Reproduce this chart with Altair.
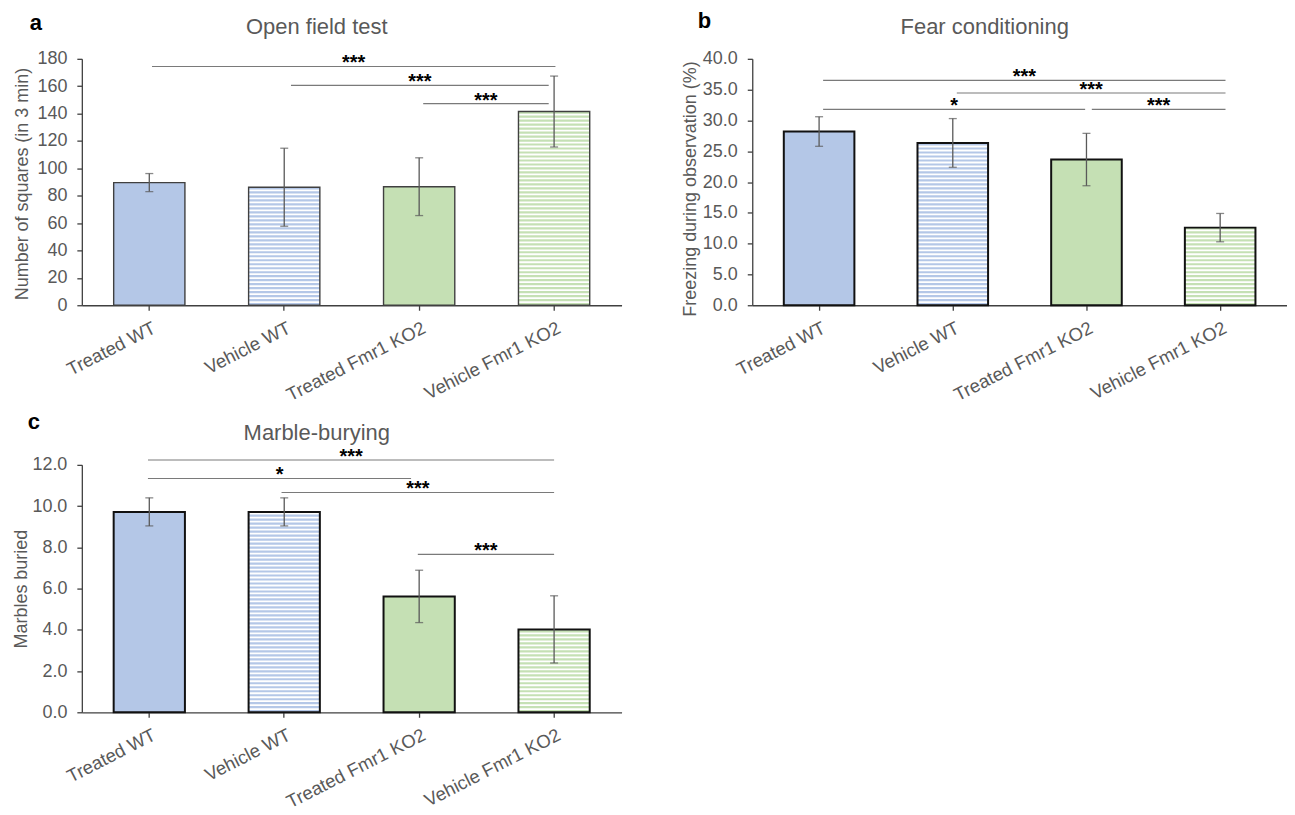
import altair as alt
import pandas as pd

# ---------------- data ----------------
categories = ["Treated WT", "Vehicle WT", "Treated Fmr1 KO2", "Vehicle Fmr1 KO2"]
bar_fill = ["#b4c7e7", "#ffffff", "#c5e0b4", "#ffffff"]
stripe_fill = ["#b4c7e7", "#b4c7e7", "#c5e0b4", "#c5e0b4"]
striped = [False, True, False, True]

open_mean = [89.6, 86.2, 86.6, 141.5]
open_err = [6.6, 28.5, 21.1, 25.9]
open_ticks = [0, 20, 40, 60, 80, 100, 120, 140, 160, 180]

fear_mean = [28.2, 26.35, 23.65, 12.6]
fear_err = [2.4, 3.95, 4.25, 2.3]
fear_ticks = [0, 5, 10, 15, 20, 25, 30, 35, 40]

marble_mean = [9.72, 9.72, 5.62, 4.02]
marble_err = [0.68, 0.68, 1.27, 1.63]
marble_ticks = [0, 2, 4, 6, 8, 10, 12]

# significance brackets (position in category units: 0.5 = centre of first bar)
open_sig_start = [0.52, 1.55, 2.53]
open_sig_end = [3.51, 3.46, 3.46]
open_sig_y = [174.4, 160.6, 147.3]
open_sig_label = ["***", "***", "***"]

fear_sig_start = [0.53, 1.53, 0.53, 2.54]
fear_sig_end = [3.54, 3.54, 2.49, 3.54]
fear_sig_y = [36.5, 34.45, 31.8, 31.8]
fear_sig_label = ["***", "***", "*", "***"]

marble_sig_start = [0.49, 0.49, 1.48, 2.49]
marble_sig_end = [3.50, 2.44, 3.50, 3.50]
marble_sig_y = [12.24, 11.34, 10.66, 7.66]
marble_sig_label = ["***", "*", "***", "***"]

FONT = "Liberation Sans"
GRAY = "#595959"


def panel(letter, title, ytitle, mean, err, ticks, fmt, sig_start, sig_end, sig_y,
          sig_label, w, h, outline_color, outline_width, ytitle_x, ytitle_y, letter_x, letter_y):
    ymax = ticks[-1]
    stripe_step = 4.0 * ymax / h  # ~4 px stripe period
    df = pd.DataFrame({"cat": categories, "mean": mean, "err": err,
                       "fill": bar_fill, "stripe": stripe_fill, "striped": striped})
    sig = pd.DataFrame({"start": sig_start, "end": sig_end, "y": sig_y, "label": sig_label})

    yscale = alt.Scale(domain=[0, ymax], nice=False, zero=True)
    yaxis = alt.Axis(values=ticks, format=fmt, labelPadding=10, tickSize=5,
                     titleX=ytitle_x, titleY=ytitle_y, titleAngle=-90,
                     titleAlign="center", titleBaseline="middle")

    def yenc(field):
        return alt.Y(f"{field}:Q", scale=yscale, axis=yaxis, title=ytitle)

    xband = alt.X("cat:N", sort=categories,
                  scale=alt.Scale(domain=categories, paddingInner=0.472, paddingOuter=0.236),
                  axis=alt.Axis(title=None, labelAngle=-27, labelAlign="right",
                                labelBaseline="top", labelPadding=8, labelOffset=1,
                                labelFontSize=18.5, tickSize=5))

    base = alt.Chart(df)
    bars = base.mark_bar(strokeWidth=0).encode(
        x=xband, y=yenc("mean"), fill=alt.Fill("fill:N", scale=None))
    stripes = base.transform_filter("datum.striped").transform_calculate(
        s=f"sequence(0, datum.mean, {stripe_step})"
    ).transform_flatten(["s"]).transform_calculate(
        s2=f"min(datum.s + {stripe_step * 0.55}, datum.mean)"
    ).mark_bar(strokeWidth=0).encode(
        x=xband, y=yenc("s"), y2="s2:Q", fill=alt.Fill("stripe:N", scale=None))
    outline = base.mark_bar(fillOpacity=0, fill="white", stroke=outline_color,
                            strokeWidth=outline_width).encode(x=xband, y=yenc("mean"))
    ebase = base.transform_calculate(lo="datum.mean - datum.err", hi="datum.mean + datum.err")
    erule = ebase.mark_rule(color=GRAY, strokeWidth=1.3).encode(
        x=xband, y=yenc("lo"), y2="hi:Q")
    ecaps = ebase.transform_fold(["lo", "hi"], as_=["which", "v"]).mark_tick(
        color=GRAY, thickness=1.3, size=8).encode(x=xband, y=yenc("v"))

    bar_group = alt.layer(bars, stripes, outline, erule, ecaps)

    xlin = alt.Scale(domain=[0, 4], nice=False, zero=False)
    sbase = alt.Chart(sig).transform_calculate(mid="(datum.start + datum.end) / 2")
    srule = sbase.mark_rule(color="#7a7a7a", strokeWidth=1.1).encode(
        x=alt.X("start:Q", scale=xlin, axis=None), x2="end:Q", y=yenc("y"))
    stext = sbase.mark_text(font=FONT, fontSize=20, fontWeight="bold", color="black",
                            align="center", baseline="alphabetic", dy=3).encode(
        x=alt.X("mid:Q", scale=xlin, axis=None), y=yenc("y"), text="label:N")

    ttl = alt.Chart(pd.DataFrame({"t": [title]})).mark_text(
        font=FONT, fontSize=22, color=GRAY, align="center", baseline="alphabetic"
    ).encode(x=alt.value(w / 2 - 35), y=alt.value(-25), text="t:N")
    let = alt.Chart(pd.DataFrame({"t": [letter]})).mark_text(
        font=FONT, fontSize=22, fontWeight="bold", color="black", align="center",
        baseline="alphabetic"
    ).encode(x=alt.value(letter_x), y=alt.value(letter_y), text="t:N")

    annot_group = alt.layer(srule, stext, ttl, let)
    return alt.layer(bar_group, annot_group).resolve_scale(x="independent").properties(
        width=w, height=h)


pa = panel("a", "Open field test", "Number of squares (in 3 min)", open_mean, open_err,
           open_ticks, "d", open_sig_start, open_sig_end, open_sig_y, open_sig_label,
           541, 247, "#404040", 1.4, -59, 125, -46, -29)
pb = panel("b", "Fear conditioning", "Freezing during observation (%)", fear_mean, fear_err,
           fear_ticks, ".1f", fear_sig_start, fear_sig_end, fear_sig_y, fear_sig_label,
           536, 247, "#111111", 2.0, -62, 130, -48, -31)
pc = panel("c", "Marble-burying", "Marbles buried", marble_mean, marble_err,
           marble_ticks, ".1f", marble_sig_start, marble_sig_end, marble_sig_y,
           marble_sig_label, 541, 248, "#111111", 2.0, -60, 124, -48, -36)

chart = alt.concat(pa, pb, pc, columns=2, spacing={"row": 160, "column": 131},
                   bounds="flush").configure(
    padding={"left": 4, "top": 1, "right": 0, "bottom": 0}
).configure_view(stroke=None).configure_axis(
    grid=False, labelFont=FONT, labelFontSize=18, labelColor=GRAY,
    titleFont=FONT, titleFontSize=18, titleColor=GRAY, titleFontWeight="normal",
    domainColor="#404040", tickColor="#404040", domainWidth=1.3, tickWidth=1.3
)

chart.save("out.html", embed_options={"renderer": "svg", "actions": False})
